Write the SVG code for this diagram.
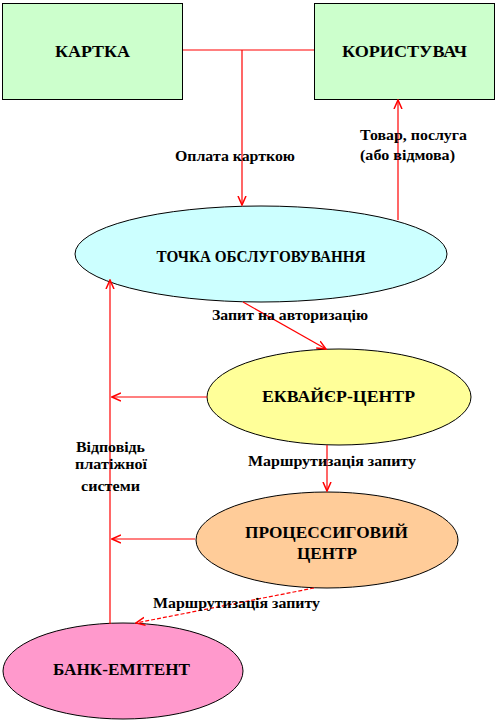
<svg xmlns="http://www.w3.org/2000/svg" width="498" height="722" viewBox="0 0 498 722" font-family="Liberation Serif">
<style>
.box{stroke:#000;stroke-width:1}
.nt{font-weight:bold;font-size:17px;fill:#000;text-anchor:middle}
.lb{font-weight:bold;font-size:14px;fill:#000;text-anchor:middle}
.c{stroke:#FF0000;stroke-width:1.2;fill:none}
</style>
<defs>
<marker id="ah" viewBox="0 0 10 10" refX="9" refY="5" markerWidth="10" markerHeight="10" markerUnits="userSpaceOnUse" orient="auto">
<path d="M0,1 L9,5 L0,9" fill="none" stroke="#FF0000" stroke-width="1.5"/>
</marker>
</defs>
<g id="n-kartka">
<rect class="box" x="2.5" y="3.5" width="180" height="96" fill="#CCFFCC"/>
<text class="nt" font-family="Liberation Serif" x="92.5" y="57" textLength="75" lengthAdjust="spacingAndGlyphs">КАРТКА</text>
</g>
<g id="n-korystuvach">
<rect class="box" x="314.5" y="3.5" width="180" height="96" fill="#CCFFCC"/>
<text class="nt" font-family="Liberation Serif" x="404.5" y="57" textLength="125" lengthAdjust="spacingAndGlyphs">КОРИСТУВАЧ</text>
</g>
<g id="n-tochka">
<ellipse class="box" cx="261" cy="254" rx="186" ry="48" fill="#CCFFFF"/>
<text class="nt" font-family="Liberation Serif" x="261" y="262" textLength="209" lengthAdjust="spacingAndGlyphs">ТОЧКА ОБСЛУГОВУВАННЯ</text>
</g>
<g id="n-ekvaier">
<ellipse class="box" cx="339" cy="397" rx="132" ry="48" fill="#FFFF99"/>
<text class="nt" font-family="Liberation Serif" x="338.5" y="402" textLength="153" lengthAdjust="spacingAndGlyphs">ЕКВАЙЄР-ЦЕНТР</text>
</g>
<g id="n-protsesyng">
<ellipse class="box" cx="327" cy="540" rx="131" ry="48" fill="#FFCC99"/>
<text class="nt" font-family="Liberation Serif" x="326.5" y="538" textLength="163" lengthAdjust="spacingAndGlyphs">ПРОЦЕССИГОВИЙ</text>
<text class="nt" font-family="Liberation Serif" x="327" y="559" textLength="60" lengthAdjust="spacingAndGlyphs">ЦЕНТР</text>
</g>
<g id="n-bank">
<ellipse class="box" cx="123" cy="671" rx="120" ry="48" fill="#FF99CC"/>
<text class="nt" font-family="Liberation Serif" x="121.5" y="675" textLength="137" lengthAdjust="spacingAndGlyphs">БАНК-ЕМІТЕНТ</text>
</g>
<g id="connectors">
<path class="c" d="M183,50 H314"/>
<path class="c" d="M242,50 V205" marker-end="url(#ah)"/>
<path class="c" d="M398,220 V100" marker-end="url(#ah)"/>
<path class="c" d="M243,302 L326,349" marker-end="url(#ah)"/>
<path class="c" d="M207,397 H112" marker-end="url(#ah)"/>
<path class="c" d="M327,445 V491" marker-end="url(#ah)"/>
<path class="c" d="M195,539 H112" marker-end="url(#ah)"/>
<path class="c" d="M314,588 L136,623" stroke-dasharray="4,2" marker-end="url(#ah)"/>
<path class="c" d="M110,624 V280" marker-end="url(#ah)"/>
</g>
<g id="labels" font-family="Liberation Serif">
<text class="lb" x="235" y="161" textLength="120" lengthAdjust="spacingAndGlyphs">Оплата карткою</text>
<text class="lb" x="413.5" y="140" textLength="107" lengthAdjust="spacingAndGlyphs">Товар, послуга</text>
<text class="lb" x="407.5" y="160" textLength="95" lengthAdjust="spacingAndGlyphs">(або відмова)</text>
<text class="lb" x="290" y="320" textLength="156" lengthAdjust="spacingAndGlyphs">Запит на авторизацію</text>
<text class="lb" x="332" y="466" textLength="168" lengthAdjust="spacingAndGlyphs">Маршрутизація запиту</text>
<text class="lb" x="236.5" y="608" textLength="167" lengthAdjust="spacingAndGlyphs">Маршрутизація запиту</text>
<text class="lb" x="110.5" y="452" textLength="69" lengthAdjust="spacingAndGlyphs">Відповідь</text>
<text class="lb" x="111" y="469" textLength="72" lengthAdjust="spacingAndGlyphs">платіжної</text>
<text class="lb" x="110.5" y="491" textLength="59" lengthAdjust="spacingAndGlyphs">системи</text>
</g>
</svg>
